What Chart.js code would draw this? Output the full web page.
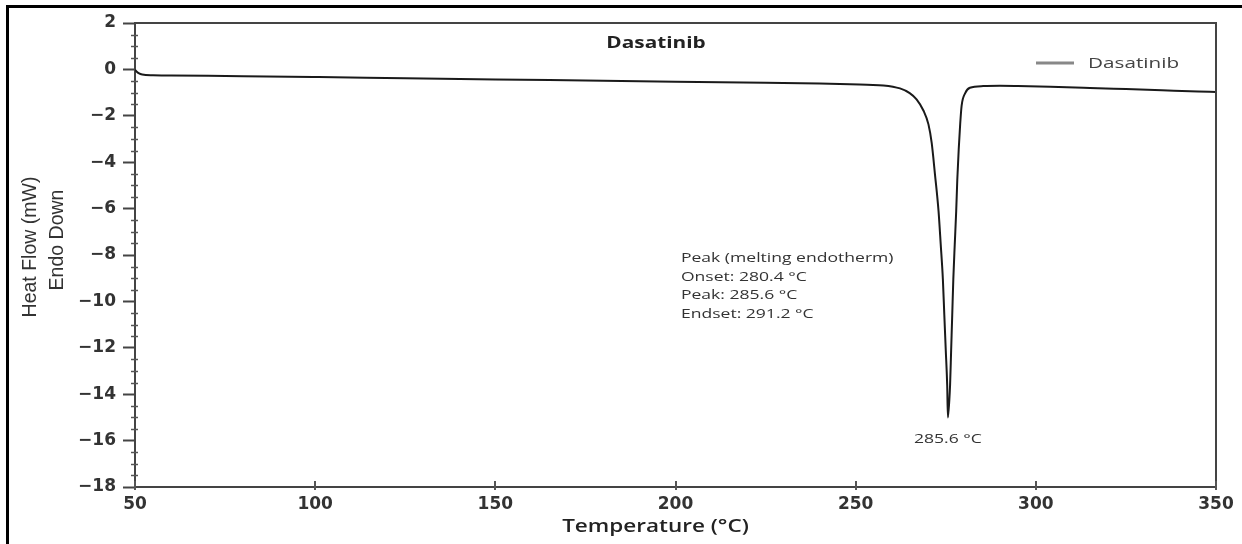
<!DOCTYPE html>
<html>
<head>
<meta charset="utf-8">
<script src="https://cdn.jsdelivr.net/npm/chart.js@4.4.1/dist/chart.umd.min.js"></script>
<style>
  html, body { margin: 0; padding: 0; background: #fff; }
  #wrap { width: 1242px; height: 544px; }
</style>
</head>
<body>
<div id="wrap"><canvas id="dscChart" width="1242" height="544"></canvas></div>
<script>
// DSC trace (temperature in °C, heat flow in mW)
const temps = [50, 50.5, 51, 52, 55, 60, 80, 101, 125, 150, 175, 200, 225, 240, 248.4, 257.7, 262.3, 265.0,
  266.9, 268.8, 270.2, 271.1, 272.0, 273.0, 273.6, 274.2, 274.6, 275.0, 275.4, 275.6,
  276.2, 276.5, 276.8, 277.1, 277.5, 277.9, 278.2, 278.6, 279.0, 279.4, 280.4, 281.7, 285.4,
  290, 295, 304, 315, 325, 335, 345, 350];
const heatFlow = [-0.02, -0.1, -0.16, -0.22, -0.25, -0.26, -0.29, -0.33, -0.38, -0.43, -0.48, -0.53, -0.58, -0.61, -0.64, -0.69, -0.82, -1.02,
  -1.29, -1.77, -2.37, -3.17, -4.51, -6.11, -7.53, -9.04, -10.58, -12.09, -13.61, -15.0,
  -13.61, -12.09, -10.58, -9.04, -7.53, -6.11, -4.77, -3.44, -2.37, -1.57, -1.02, -0.79, -0.72,
  -0.71, -0.72, -0.75, -0.8, -0.85, -0.9, -0.95, -0.97];

const xTicks = [50, 100, 150, 200, 250, 300, 350];
const yTicks = [2, 0, -2, -4, -6, -8, -10, -12, -14, -16, -18];

const seriesName = "Dasatinib";
const chartTitle = "Dasatinib";
const xTitle = "Temperature (°C)";
const yTitle = ["Heat Flow (mW)", "Endo Down"];
const peakNotes = ["Peak (melting endotherm)", "Onset: 280.4 °C", "Peak: 285.6 °C", "Endset: 291.2 °C"];
const peakLabel = "285.6 °C";

// the source picture is stretched sideways, so text gets widened a bit
const sx = 1.3;

function wideText(ctx, txt, x, y, font, color, align, stretch) {
  const k = stretch || sx;
  ctx.save();
  ctx.font = font;
  ctx.fillStyle = color;
  ctx.textBaseline = 'middle';
  ctx.textAlign = 'left';
  const w = ctx.measureText(txt).width * k;
  const left = align === 'center' ? x - w / 2 : align === 'right' ? x - w : x;
  ctx.translate(left, y);
  ctx.scale(k, 1);
  ctx.fillText(txt, 0, 0);
  ctx.restore();
}

const decorations = {
  id: 'decorations',
  beforeDraw(chart) {
    const ctx = chart.ctx;
    ctx.save();
    ctx.fillStyle = '#fff';
    ctx.fillRect(0, 0, chart.width, chart.height);
    // outer frame of the screenshot (left + top)
    ctx.strokeStyle = '#000';
    ctx.lineWidth = 3;
    ctx.beginPath();
    ctx.moveTo(7.5, chart.height + 2);
    ctx.lineTo(7.5, 6.5);
    ctx.lineTo(chart.width + 2, 6.5);
    ctx.stroke();
    ctx.restore();
  },
  afterDraw(chart) {
    const ctx = chart.ctx;
    const a = chart.chartArea;
    const xs = chart.scales.x, ys = chart.scales.y;
    ctx.save();

    // top and right frame
    ctx.strokeStyle = '#444';
    ctx.lineWidth = 2;
    ctx.beginPath();
    ctx.moveTo(a.left, a.top);
    ctx.lineTo(a.right, a.top);
    ctx.lineTo(a.right, a.bottom);
    ctx.stroke();

    // minor y ticks
    ctx.lineWidth = 1.5;
    ctx.strokeStyle = '#555';
    for (let v = ys.min; v <= ys.max; v += 0.5) {
      if (yTicks.includes(v)) continue;
      const py = Math.round(ys.getPixelForValue(v)) + 0.5;
      ctx.beginPath();
      ctx.moveTo(a.left - 4, py);
      ctx.lineTo(a.left + 3, py);
      ctx.stroke();
    }
    // x tick marks
    ctx.lineWidth = 2;
    xTicks.forEach(t => {
      const px = Math.round(xs.getPixelForValue(t));
      ctx.beginPath();
      ctx.moveTo(px, a.bottom - 6);
      ctx.lineTo(px, a.bottom + 3);
      ctx.stroke();
    });
    ctx.restore();

    // title inside plot
    wideText(ctx, chartTitle, xs.getPixelForValue(194.6), a.top + 20, 'bold 16px "Open Sans"', '#222', 'center');

    // legend inside plot
    const ds = chart.data.datasets[0];
    ctx.save();
    ctx.strokeStyle = '#888';
    ctx.lineWidth = 3;
    ctx.beginPath();
    ctx.moveTo(a.right - 180, a.top + 40);
    ctx.lineTo(a.right - 142, a.top + 40);
    ctx.stroke();
    ctx.restore();
    wideText(ctx, ds.label, a.right - 128, a.top + 41, '15px "Open Sans"', '#444', 'left', 1.38);

    // peak notes
    const nx = xs.getPixelForValue(201.5);
    const ny = ys.getPixelForValue(-8.15);
    peakNotes.forEach((s, i) => {
      wideText(ctx, s, nx, ny + i * 18.5, '13.5px "Open Sans"', '#333', 'left');
    });

    // label under the peak tip
    let iMin = 0;
    heatFlow.forEach((v, i) => { if (v < heatFlow[iMin]) iMin = i; });
    wideText(ctx, peakLabel, xs.getPixelForValue(temps[iMin]), ys.getPixelForValue(heatFlow[iMin]) + 22,
      '13.5px "Open Sans"', '#333', 'center');

    // axis titles
    wideText(ctx, xTitle, (a.left + a.right) / 2 - 20, 527, '600 18px "Open Sans"', '#222', 'center', 1.25);

    ctx.save();
    ctx.fillStyle = '#333';
    ctx.font = '19.5px "Liberation Sans"';
    ctx.textBaseline = 'middle';
    ctx.textAlign = 'center';
    [[31, 247], [58, 240]].forEach((p, i) => {
      ctx.save();
      ctx.translate(p[0], p[1]);
      ctx.rotate(-Math.PI / 2);
      ctx.fillText(yTitle[i], 0, 0);
      ctx.restore();
    });
    ctx.restore();
  }
};

new Chart(document.getElementById('dscChart'), {
  type: 'line',
  data: {
    datasets: [{
      label: seriesName,
      data: temps.map((t, i) => ({ x: t, y: heatFlow[i] })),
      borderColor: '#1a1a1a',
      borderWidth: 2,
      pointRadius: 0,
      fill: false,
      cubicInterpolationMode: 'monotone'
    }]
  },
  options: {
    responsive: false,
    animation: false,
    layout: { padding: { top: 23, right: 26, bottom: 0, left: 0 } },
    plugins: {
      legend: { display: false },
      tooltip: { enabled: false },
      title: { display: false }
    },
    scales: {
      x: {
        type: 'linear',
        min: 50, max: 350,
        afterBuildTicks: s => { s.ticks = xTicks.map(v => ({ value: v })); },
        afterFit: s => { s.height = 57; },
        border: { display: true, color: '#444', width: 2 },
        grid: { display: true, drawOnChartArea: false, drawTicks: false },
        ticks: {
          padding: 7,
          color: '#333',
          font: { family: 'DejaVu Sans', size: 17, weight: 'bold' },
          maxRotation: 0
        }
      },
      y: {
        type: 'linear',
        min: -18, max: 2,
        afterBuildTicks: s => { s.ticks = yTicks.map(v => ({ value: v })); },
        afterFit: s => { s.width = 135; },
        border: { display: true, color: '#444', width: 2 },
        grid: { display: true, drawOnChartArea: false, tickLength: 12, tickColor: '#444', tickWidth: 2 },
        ticks: {
          padding: 7,
          color: '#333',
          font: { family: 'DejaVu Sans', size: 17, weight: 'bold' },
          callback: v => String(v).replace('-', '\u2212')
        }
      }
    }
  },
  plugins: [decorations]
});
</script>
</body>
</html>
